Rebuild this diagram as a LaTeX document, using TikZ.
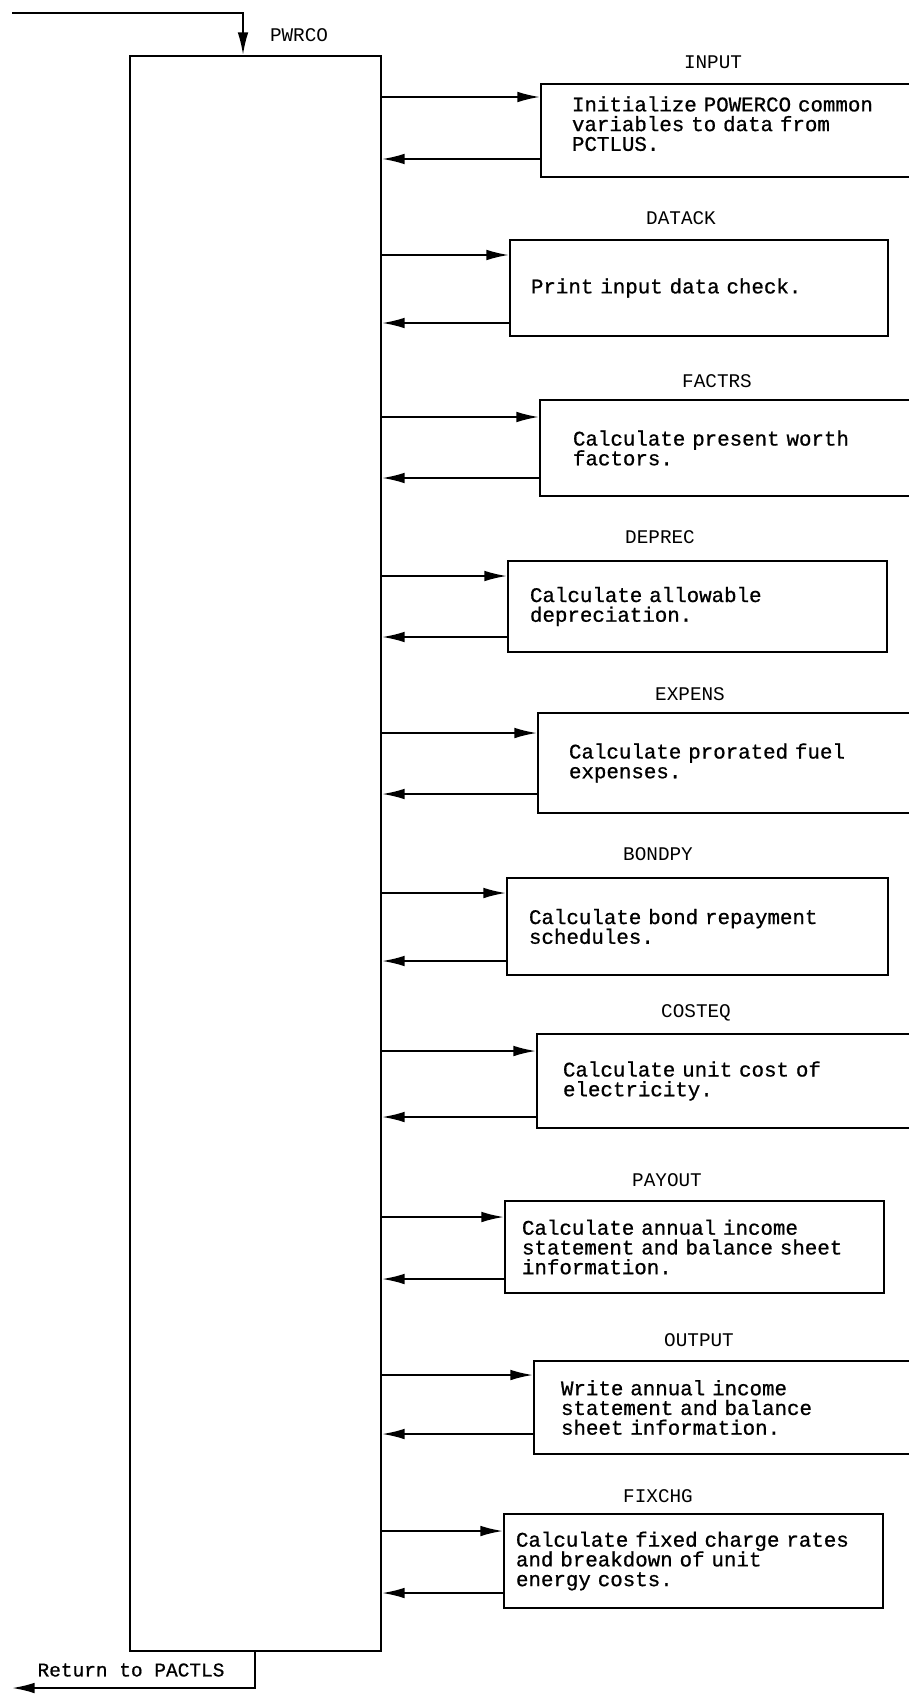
\documentclass[tikz,border=0pt]{standalone}
\usepackage{fontspec}
\newfontfamily\typer{Liberation Mono}[FakeBold=0.8, WordSpace={1,0,0}]
\setmonofont{Liberation Mono}
\usetikzlibrary{positioning,arrows.meta}

\begin{document}
\begin{tikzpicture}[
  x=0.75pt, y=-0.75pt, line width=1.5pt,
  >={Latex[length=17pt,width=8pt]},
  sub/.style args={#1/#2}{draw, anchor=north west, align=left,
              font=\fontsize{15.6}{14.8}\selectfont\typer,
              inner xsep=#2*0.75pt, text width=(#1-2*#2)*0.75pt,
              minimum height=94*0.75pt},
  tag/.style={font=\fontsize{14.5}{15}\selectfont\ttfamily}]
\useasboundingbox (0,0) rectangle (908,1694);
% calling routine
\node[draw, anchor=north west, inner sep=0pt,
      minimum width=251*0.75pt, minimum height=1595*0.75pt] (main) at (129,55) {};
\node[tag] (pwrco) at (299,35) {PWRCO};
\coordinate (entry) at (12,13);
\coordinate (exit) at (12,1688);
\draw[->] (entry) -| (main.north -| 243,0);
\draw[->] (main.south -| 255,0) |- (exit);
\node[font=\fontsize{14.6}{15}\selectfont\typer] (ret) at (131,1670) {Return to PACTLS};
% subroutines
\node[sub=400/31, minimum height=93*0.75pt, text depth=40pt] (input) at (540,83) {Initialize POWERCO common\\variables to data from\\PCTLUS.};
\node[sub=378/21, minimum height=96*0.75pt] (datack) at (509,239) {Print input data check.};
\node[sub=400/33, minimum height=96*0.75pt] (factrs) at (539,399) {Calculate present worth\\factors.};
\node[sub=379/22, minimum height=91*0.75pt] (deprec) at (507,560) {Calculate allowable\\depreciation.};
\node[sub=400/31, minimum height=100*0.75pt] (expens) at (537,712) {Calculate prorated fuel\\expenses.};
\node[sub=381/22, minimum height=97*0.75pt] (bondpy) at (506,877) {Calculate bond repayment\\schedules.};
\node[sub=400/26] (costeq) at (536,1033) {Calculate unit cost of\\electricity.};
\node[sub=379/17, minimum height=92*0.75pt] (payout) at (504,1200) {Calculate annual income\\statement and balance sheet\\information.};
\node[sub=400/27, minimum height=93*0.75pt] (output) at (533,1360) {Write annual income\\statement and balance\\sheet information.};
\node[sub=379/12] (fixchg) at (503,1513) {Calculate fixed charge rates\\and breakdown of unit\\energy costs.};
% names
\node[tag] (tinput) at (713,62) {INPUT};
\node[tag] (tdatack) at (681,218) {DATACK};
\node[tag] (tfactrs) at (717,381) {FACTRS};
\node[tag] (tdeprec) at (660,537) {DEPREC};
\node[tag] (texpens) at (690,694) {EXPENS};
\node[tag] (tbondpy) at (658,854) {BONDPY};
\node[tag] (tcosteq) at (696,1013) {COSTEQ};
\node[tag] (tpayout) at (667,1180) {PAYOUT};
\node[tag] (toutput) at (699,1340) {OUTPUT};
\node[tag] (tfixchg) at (658,1496) {FIXCHG};
% calls and returns
\foreach \b/\yi/\yo in {input/97/159, datack/255/323, factrs/417/478,
    deprec/576/637, expens/733/794, bondpy/893/961, costeq/1051/1117,
    payout/1217/1279, output/1375/1434, fixchg/1531/1593} {
  \draw[->] (main.east |- 0,\yi) -- (\b.west |- 0,\yi);
  \draw[->] (\b.west |- 0,\yo) -- (main.east |- 0,\yo);
}
\end{tikzpicture}
\end{document}
